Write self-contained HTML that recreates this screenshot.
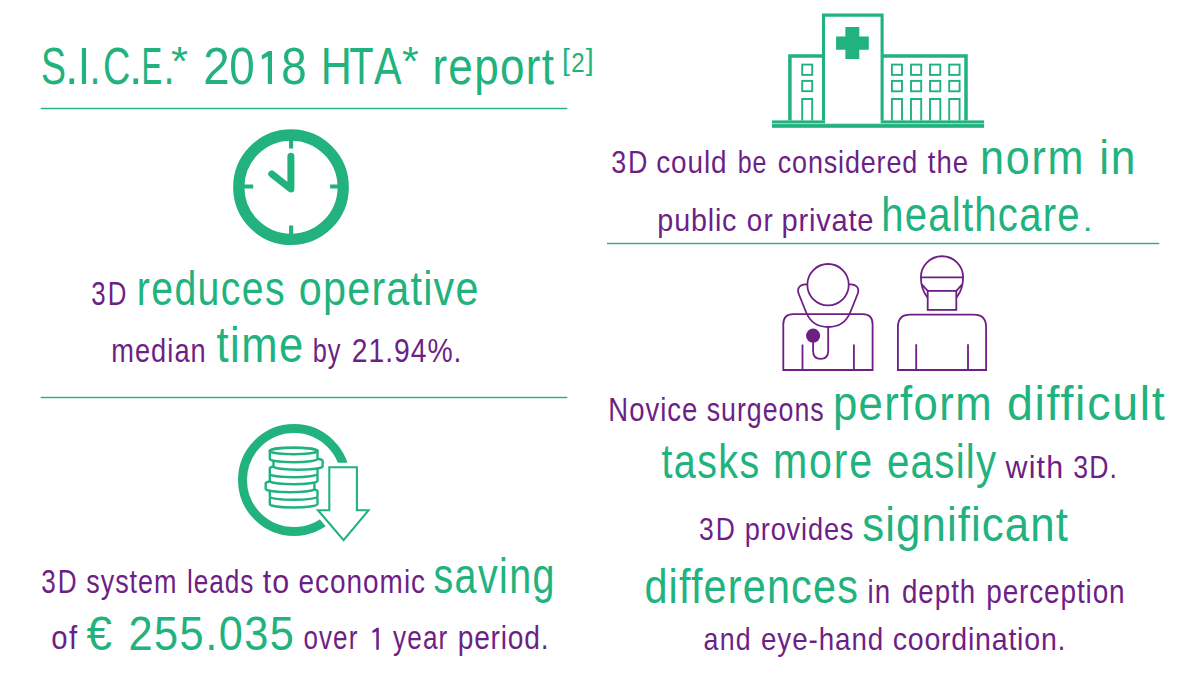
<!DOCTYPE html>
<html><head><meta charset="utf-8"><style>
html,body{margin:0;padding:0;background:#fff;width:1200px;height:676px;overflow:hidden}
svg{display:block}
text{font-family:"Liberation Sans", sans-serif;white-space:pre}
</style></head><body>
<svg width="1200" height="676" viewBox="0 0 1200 676">
<rect x="40.7" y="107.8" width="526.6" height="1.4" fill="#21b27e"/>
<rect x="40.7" y="396.8" width="526.6" height="1.4" fill="#21b27e"/>
<rect x="607" y="242.8" width="552.3" height="1.4" fill="#21b27e"/>
<g id="clock" fill="none" stroke="#21b27e">
<circle cx="291" cy="187.2" r="52.2" stroke-width="11.3"/>
<path d="M291.1 137V148.6M291.1 225.6V237M241 186.5H253.2M330.1 186.5H341" stroke-width="4.1"/>
<path d="M290.9 156.2V189L271.8 174" stroke-width="7" stroke-linecap="round" stroke-linejoin="round"/>
</g>
<g id="coins">
<circle cx="294" cy="480" r="51.5" fill="none" stroke="#21b27e" stroke-width="9"/>

<path d="M329.3 467.3H356.9V510.3H368.5L343.6 540.2L318 510.3H329.3Z" fill="#fff" stroke="#fff" stroke-width="9" stroke-linejoin="miter"/>
<g fill="#fff" stroke="#21b27e" stroke-width="2.4">
<path d="M269.8 504.3V498.5A23.85 3.2 0 0 1 317.5 498.5V504.3A23.85 3.2 0 0 1 269.8 504.3Z"/>
<path d="M269.8 496.6V491A23.85 3.2 0 0 1 317.5 491V496.6A23.85 3.2 0 0 1 269.8 496.6Z"/>
<path d="M265.7 489V483.2A24.35 3.2 0 0 1 314.4 483.2V489A24.35 3.2 0 0 1 265.7 489Z"/>
<path d="M269.8 481V475.2A23.85 3.2 0 0 1 317.5 475.2V481A23.85 3.2 0 0 1 269.8 481Z"/>
<path d="M269.8 474V468.2A23.85 3.2 0 0 1 317.5 468.2V474A23.85 3.2 0 0 1 269.8 474Z"/>
<path d="M273.5 466.5V460.7A24.55 3.2 0 0 1 322.6 460.7V466.5A24.55 3.2 0 0 1 273.5 466.5Z"/>
<path d="M269.8 459V451A23.85 3.2 0 0 1 317.5 451V459A23.85 3.2 0 0 1 269.8 459Z"/>
<ellipse cx="293.65" cy="451" rx="23.85" ry="3.2"/>
</g>
<path d="M329.3 467.3H356.9V510.3H368.5L343.6 540.2L318 510.3H329.3Z" fill="none" stroke="#21b27e" stroke-width="2.1" stroke-linejoin="miter"/>
</g>
<g id="hospital" fill="none" stroke="#21b27e">
<path d="M789.9 120.5V56.1H823.5M881.8 56.1H966V120.5" stroke-width="3.5"/>
<path d="M823.5 120.5V15.1H882.1V120.5" stroke-width="3.1"/>
<rect x="772" y="124.1" width="212.1" height="3.7" fill="#21b27e" stroke="none"/>
<rect x="772" y="120.4" width="53.1" height="2.9" fill="#21b27e" stroke="none"/>
<rect x="880.7" y="120.4" width="103.4" height="2.9" fill="#21b27e" stroke="none"/>
<rect x="772" y="123.2" width="212.1" height="1" fill="#21b27e" fill-opacity="0.35" stroke="none"/>
<path d="M845.4 27H859.3V36.4H868.8V49.7H859.3V59.1H845.4V49.7H836.1V36.4H845.4Z" fill="#21b27e" stroke="none"/>
<g stroke-width="1.9">
<rect x="802.2" y="64.6" width="10" height="10.3"/>
<rect x="802.2" y="80.9" width="10" height="10.3"/>
<path d="M802.2 120.5V99H812.2V120.5"/>
<rect x="891.9" y="64.6" width="10.1" height="10.3"/>
<rect x="911" y="64.6" width="10.2" height="10.3"/>
<rect x="930" y="64.6" width="10.3" height="10.3"/>
<rect x="949.2" y="64.6" width="10.4" height="10.3"/>
<rect x="891.9" y="80.9" width="10.1" height="10.4"/>
<rect x="911" y="80.9" width="10.2" height="10.4"/>
<rect x="930" y="80.9" width="10.3" height="10.4"/>
<rect x="949.2" y="80.9" width="10.4" height="10.4"/>
<path d="M891.9 120.5V99H902V120.5M911 120.5V99H921.2V120.5M930 120.5V99H940.3V120.5M949.2 120.5V99H959.6V120.5"/>
</g>
</g>
<g id="doctors" fill="none" stroke="#6e1f86" stroke-width="1.8">
<circle cx="828.05" cy="284.7" r="20.7"/>
<path d="M807.3 284.4Q800 284 798.4 288.5Q797.6 291 798.6 293.5L806 312Q812 327 828.2 327Q844.4 327 850.4 312L857.8 293.5Q858.8 291 858 288.5Q856.4 284 848.9 284.4"/>
<path d="M783.3 370V324.2Q783.3 314.1 793.4 314.1H862.6Q872.6 314.1 872.6 324.2V370Z"/>
<path d="M802.5 344.6V370M853.9 344.6V370"/>
<path d="M828.2 327V351Q828.2 358.8 820.6 358.8Q813.1 358.8 813.1 351V341.9"/>
<circle cx="813.1" cy="335.7" r="7.1" fill="#6e1f86" stroke="none"/>
<path d="M920.9 277.3A21.1 21.1 0 0 1 963.1 277.3ZM920.9 277.3A21.1 28 0 0 0 963.1 277.3M921.1 283.6L927.7 290.9M962.9 283.6L956.3 290.9"/>
<rect x="927.7" y="290.9" width="28.6" height="19" fill="#fff"/>
<path d="M897.9 370V327.1Q897.9 314.7 910.3 314.7H973.7Q986.1 314.7 986.1 327.1V370Z"/>
<path d="M916.2 344.3V370M968 344.3V370"/>
</g>
<path d="M272 50.9V83.9H267.8V56.2L262.2 59.6L261.6 55.4L268.4 50.9Z" fill="#21b27e"/>
<path d="M378.8 627.8V649.8H376.3V631.4L372.6 633L372.2 630.9L376.8 627.8Z" fill="#6e1f86"/>

<text id="t1" transform="matrix(0.7207 0 0 1 41.01 0)" x="0" y="84.00" fill="#21b27e" font-size="52">S</text>
<text id="t2" transform="matrix(0.9400 0 0 1 64.88 0)" x="0" y="84.00" fill="#21b27e" font-size="52">.</text>
<text id="t3" transform="matrix(0.8600 0 0 1 77.70 0)" x="0" y="84.00" fill="#21b27e" font-size="52">I</text>
<text id="t4" transform="matrix(0.7667 0 0 1 89.40 0)" x="0" y="84.00" fill="#21b27e" font-size="52">.</text>
<text id="t5" transform="matrix(0.7273 0 0 1 103.03 0)" x="0" y="84.00" fill="#21b27e" font-size="52">C</text>
<text id="t6" transform="matrix(0.9400 0 0 1 128.88 0)" x="0" y="84.00" fill="#21b27e" font-size="52">.</text>
<text id="t7" transform="matrix(0.5966 0 0 1 141.61 0)" x="0" y="84.00" fill="#21b27e" font-size="52">E</text>
<text id="t8" transform="matrix(0.7667 0 0 1 163.40 0)" x="0" y="84.00" fill="#21b27e" font-size="52">.</text>
<text id="t9" transform="matrix(1.0929 0 0 1 170.91 0)" x="0" y="75.50" fill="#21b27e" font-size="40">*</text>
<text id="t10" transform="matrix(0.9130 0 0 1 203.26 0)" x="0" y="84.00" fill="#21b27e" font-size="52">2</text>
<text id="t11" transform="matrix(0.8800 0 0 1 229.24 0)" x="0" y="84.00" fill="#21b27e" font-size="52">0</text>
<text id="t13" transform="matrix(0.8800 0 0 1 281.24 0)" x="0" y="84.00" fill="#21b27e" font-size="52">8</text>
<text id="t14" transform="matrix(0.8276 0 0 1 320.69 0)" x="0" y="84.00" fill="#21b27e" font-size="52">H</text>
<text id="t15" transform="matrix(0.7667 0 0 1 349.23 0)" x="0" y="84.00" fill="#21b27e" font-size="52">T</text>
<text id="t16" transform="matrix(0.7941 0 0 1 374.00 0)" x="0" y="84.00" fill="#21b27e" font-size="52">A</text>
<text id="t17" transform="matrix(1.0714 0 0 1 401.93 0)" x="0" y="75.20" fill="#21b27e" font-size="40">*</text>
<text id="t18" transform="matrix(0.8635 0 0 1 432.41 0)" x="0" y="84.00" letter-spacing="1.506" fill="#21b27e" font-size="51">report</text>
<text id="L1b" transform="matrix(0.9500 0 0 1 562.10 0)" x="0" y="69.80" fill="#21b27e" font-size="30">[</text>
<text id="L1c" transform="matrix(0.8571 0 0 1 571.14 0)" x="0" y="71.70" fill="#21b27e" font-size="28.2">2</text>
<text id="L1d" transform="matrix(0.9500 0 0 1 585.63 0)" x="0" y="69.80" fill="#21b27e" font-size="30">]</text>
<text id="L2a" transform="matrix(0.7833 0 0 1 91.33 0)" x="0" y="304.60" letter-spacing="2.489" fill="#6e1f86" font-size="33">3D</text>
<text id="L2b" transform="matrix(0.8169 0 0 1 136.82 0)" x="0" y="305.00" letter-spacing="1.693" fill="#21b27e" font-size="48">reduces</text>
<text id="L2c" transform="matrix(0.8608 0 0 1 298.84 0)" x="0" y="305.00" letter-spacing="1.409" fill="#21b27e" font-size="48">operative</text>
<text id="L3a" transform="matrix(0.8383 0 0 1 111.24 0)" x="0" y="362.00" letter-spacing="1.229" fill="#6e1f86" font-size="32.5">median</text>
<text id="L3b" transform="matrix(0.8797 0 0 1 216.44 0)" x="0" y="362.30" letter-spacing="1.724" fill="#21b27e" font-size="49.5">time</text>
<text id="L3c" transform="matrix(0.7800 0 0 1 312.80 0)" x="0" y="362.00" letter-spacing="1.103" fill="#6e1f86" font-size="32.5">by</text>
<text id="L3d" transform="matrix(0.8709 0 0 1 351.82 0)" x="0" y="362.00" letter-spacing="1.100" fill="#6e1f86" font-size="32.5">21.94%.</text>
<text id="L4a" transform="matrix(0.8038 0 0 1 41.29 0)" x="0" y="592.80" letter-spacing="2.426" fill="#6e1f86" font-size="32.5">3D</text>
<text id="L4b" transform="matrix(0.8300 0 0 1 86.17 0)" x="0" y="592.80" letter-spacing="1.205" fill="#6e1f86" font-size="32.5">system</text>
<text id="L4c" transform="matrix(0.8060 0 0 1 186.93 0)" x="0" y="592.80" letter-spacing="1.163" fill="#6e1f86" font-size="32.5">leads</text>
<text id="L4d" transform="matrix(0.9380 0 0 1 262.64 0)" x="0" y="592.80" letter-spacing="1.333" fill="#6e1f86" font-size="32.5">to</text>
<text id="L4e" transform="matrix(0.8609 0 0 1 298.51 0)" x="0" y="592.80" letter-spacing="1.137" fill="#6e1f86" font-size="32.5">economic</text>
<text id="L4f" transform="matrix(0.7896 0 0 1 433.42 0)" x="0" y="593.30" letter-spacing="1.760" fill="#21b27e" font-size="50">saving</text>
<text id="L5a" transform="matrix(0.8907 0 0 1 51.35 0)" x="0" y="649.50" letter-spacing="1.516" fill="#6e1f86" font-size="33">of</text>
<text id="L5b" transform="matrix(0.9346 0 0 1 86.45 0)" x="0" y="649.80" fill="#21b27e" font-size="49">€</text>
<text id="L5c" transform="matrix(0.8853 0 0 1 128.48 0)" x="0" y="649.80" letter-spacing="1.629" fill="#21b27e" font-size="49">255.035</text>
<text id="L5d" transform="matrix(0.7897 0 0 1 303.49 0)" x="0" y="649.50" letter-spacing="1.330" fill="#6e1f86" font-size="33">over</text>
<text id="L5f" transform="matrix(0.7937 0 0 1 393.10 0)" x="0" y="649.50" letter-spacing="1.344" fill="#6e1f86" font-size="33">year</text>
<text id="L5g" transform="matrix(0.8542 0 0 1 457.66 0)" x="0" y="649.50" letter-spacing="0.937" fill="#6e1f86" font-size="33">period.</text>
<text id="R1a" transform="matrix(0.8395 0 0 1 611.24 0)" x="0" y="173.30" letter-spacing="2.263" fill="#6e1f86" font-size="32">3D</text>
<text id="R1b" transform="matrix(0.8730 0 0 1 656.13 0)" x="0" y="173.30" letter-spacing="1.060" fill="#6e1f86" font-size="32">could</text>
<text id="R1c" transform="matrix(0.7800 0 0 1 737.80 0)" x="0" y="173.30" letter-spacing="1.103" fill="#6e1f86" font-size="32">be</text>
<text id="R1d" transform="matrix(0.8429 0 0 1 777.71 0)" x="0" y="173.30" letter-spacing="1.015" fill="#6e1f86" font-size="32">considered</text>
<text id="R1e" transform="matrix(0.8616 0 0 1 927.70 0)" x="0" y="173.30" letter-spacing="1.248" fill="#6e1f86" font-size="32">the</text>
<text id="R1f" transform="matrix(0.8805 0 0 1 979.98 0)" x="0" y="173.60" letter-spacing="1.988" fill="#21b27e" font-size="49">norm</text>
<text id="R1g" transform="matrix(0.9031 0 0 1 1099.34 0)" x="0" y="173.60" letter-spacing="1.772" fill="#21b27e" font-size="49">in</text>
<text id="R2a" transform="matrix(0.8976 0 0 1 657.34 0)" x="0" y="230.80" letter-spacing="0.914" fill="#6e1f86" font-size="32">public</text>
<text id="R2b" transform="matrix(0.8722 0 0 1 746.75 0)" x="0" y="230.80" letter-spacing="1.548" fill="#6e1f86" font-size="32">or</text>
<text id="R2c" transform="matrix(0.9091 0 0 1 781.56 0)" x="0" y="230.80" letter-spacing="0.852" fill="#6e1f86" font-size="32">private</text>
<text id="R2d" transform="matrix(0.8186 0 0 1 881.18 0)" x="0" y="231.20" letter-spacing="1.513" fill="#21b27e" font-size="49">healthcare</text>
<text id="R2e" transform="matrix(1.1000 0 0 1 1082.70 0)" x="0" y="230.80" fill="#21b27e" font-size="32">.</text>
<text id="R3a" transform="matrix(0.8100 0 0 1 608.29 0)" x="0" y="420.70" letter-spacing="1.235" fill="#6e1f86" font-size="34">Novice</text>
<text id="R3b" transform="matrix(0.7870 0 0 1 706.75 0)" x="0" y="420.70" letter-spacing="1.253" fill="#6e1f86" font-size="34">surgeons</text>
<text id="R3c" transform="matrix(0.8914 0 0 1 832.95 0)" x="0" y="420.50" letter-spacing="1.515" fill="#21b27e" font-size="49">perform</text>
<text id="R3d" transform="matrix(0.9500 0 0 1 1006.88 0)" x="0" y="420.50" letter-spacing="1.829" fill="#21b27e" font-size="49">difficult</text>
<text id="R4a" transform="matrix(0.8054 0 0 1 661.46 0)" x="0" y="477.90" letter-spacing="1.738" fill="#21b27e" font-size="49">tasks</text>
<text id="R4b" transform="matrix(0.8387 0 0 1 773.12 0)" x="0" y="477.90" letter-spacing="2.106" fill="#21b27e" font-size="49">more</text>
<text id="R4c" transform="matrix(0.8240 0 0 1 886.90 0)" x="0" y="477.90" letter-spacing="1.493" fill="#21b27e" font-size="49">easily</text>
<text id="R4d" transform="matrix(0.9500 0 0 1 1005.61 0)" x="0" y="477.90" letter-spacing="1.211" fill="#6e1f86" font-size="32">with</text>
<text id="R4e" transform="matrix(0.8326 0 0 1 1073.17 0)" x="0" y="477.90" letter-spacing="1.381" fill="#6e1f86" font-size="32">3D.</text>
<text id="R5a" transform="matrix(0.8276 0 0 1 699.08 0)" x="0" y="540.50" letter-spacing="2.296" fill="#6e1f86" font-size="32">3D</text>
<text id="R5b" transform="matrix(0.8504 0 0 1 744.76 0)" x="0" y="540.50" letter-spacing="0.991" fill="#6e1f86" font-size="32">provides</text>
<text id="R5c" transform="matrix(0.8944 0 0 1 862.21 0)" x="0" y="540.80" letter-spacing="1.207" fill="#21b27e" font-size="49">significant</text>
<text id="R6a" transform="matrix(0.8445 0 0 1 644.42 0)" x="0" y="602.90" letter-spacing="1.397" fill="#21b27e" font-size="49">differences</text>
<text id="R6b" transform="matrix(0.8409 0 0 1 867.58 0)" x="0" y="602.70" letter-spacing="1.308" fill="#6e1f86" font-size="33">in</text>
<text id="R6c" transform="matrix(0.8388 0 0 1 901.98 0)" x="0" y="602.70" letter-spacing="1.192" fill="#6e1f86" font-size="33">depth</text>
<text id="R6d" transform="matrix(0.8493 0 0 1 986.23 0)" x="0" y="602.70" letter-spacing="0.988" fill="#6e1f86" font-size="33">perception</text>
<text id="R7a" transform="matrix(0.8363 0 0 1 703.53 0)" x="0" y="650.50" letter-spacing="1.525" fill="#6e1f86" font-size="32">and</text>
<text id="R7b" transform="matrix(0.8683 0 0 1 760.94 0)" x="0" y="650.50" letter-spacing="1.078" fill="#6e1f86" font-size="32">eye-hand</text>
<text id="R7c" transform="matrix(0.8944 0 0 1 892.67 0)" x="0" y="650.50" letter-spacing="0.839" fill="#6e1f86" font-size="32">coordination.</text>
</svg>
</body></html>
